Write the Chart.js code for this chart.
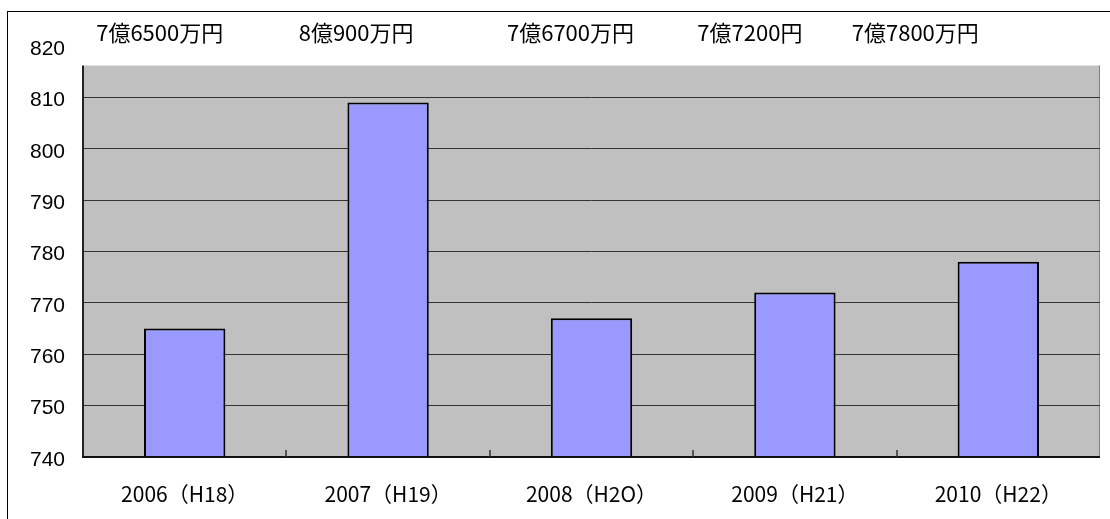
<!DOCTYPE html>
<html>
<head>
<meta charset="utf-8">
<script src="https://cdn.jsdelivr.net/npm/chart.js@4"></script>
<style>
  html, body { margin: 0; padding: 0; background: #fff; }
  #wrap { width: 1110px; height: 519px; position: relative; }
</style>
</head>
<body>
<div id="wrap"><canvas id="c" width="1110" height="519"></canvas></div>
<script>
// ---- data ----
const categories = ['2006（H18）', '2007（H19）', '2008（H2O）', '2009（H21）', '2010（H22）'];
const values = [765, 809, 767, 772, 778];
const topLabels = ['7億6500万円', '8億900万円', '7億6700万円', '7億7200円', '7億7800万円'];
const yMin = 740;
const yMax = 820;
const yStep = 10;

// ---- style constants ----
const plotBg = '#C0C0C0';
const plotTopValue = 816.2;          // visible top of the gray plot area
const topLabelShift = [-25, -32, -21, -45, -83]; // text boxes offset from bar centres (px)
const topLabelY = 33;

const decorPlugin = {
  id: 'decor',
  beforeDraw(chart) {
    const ctx = chart.ctx;
    const a = chart.chartArea;
    const y = chart.scales.y;
    const top = y.getPixelForValue(plotTopValue);
    ctx.save();
    ctx.fillStyle = '#fff';
    ctx.fillRect(0, 0, chart.width, chart.height);
    // outer frame
    ctx.strokeStyle = '#000';
    ctx.lineWidth = 1;
    ctx.strokeRect(7.5, 11.5, chart.width + 10, chart.height + 10);
    // plot background
    ctx.fillStyle = plotBg;
    ctx.fillRect(a.left, top, a.right - a.left, a.bottom - top);
    // right edge of plot
    ctx.strokeStyle = '#808080';
    ctx.lineWidth = 1;
    ctx.beginPath();
    ctx.moveTo(a.right - 0.5, top);
    ctx.lineTo(a.right - 0.5, a.bottom);
    ctx.stroke();
    ctx.restore();
  },
  afterDatasetsDraw(chart) {
    const ctx = chart.ctx;
    const a = chart.chartArea;
    const x = chart.scales.x;
    const y = chart.scales.y;
    const top = y.getPixelForValue(plotTopValue);
    ctx.save();
    // left axis line
    ctx.strokeStyle = '#222';
    ctx.lineWidth = 2;
    ctx.beginPath();
    ctx.moveTo(a.left, top);
    ctx.lineTo(a.left, a.bottom + 1);
    ctx.stroke();
    // bottom axis line
    ctx.strokeStyle = '#111';
    ctx.lineWidth = 2;
    ctx.beginPath();
    ctx.moveTo(a.left - 1, a.bottom);
    ctx.lineTo(a.right, a.bottom);
    ctx.stroke();
    // category tick marks (between categories, pointing inward)
    ctx.strokeStyle = '#333';
    ctx.lineWidth = 1.5;
    for (let i = 0; i < categories.length - 1; i++) {
      const px = Math.round((x.getPixelForTick(i) + x.getPixelForTick(i + 1)) / 2);
      ctx.beginPath();
      ctx.moveTo(px, a.bottom);
      ctx.lineTo(px, a.bottom - 7);
      ctx.stroke();
    }
    // top value text boxes
    ctx.fillStyle = '#000';
    ctx.font = '22px "Noto Sans CJK JP"';
    ctx.textAlign = 'center';
    ctx.textBaseline = 'middle';
    topLabels.forEach((t, i) => {
      const cx = x.getPixelForValue(i) + topLabelShift[i];
      ctx.fillText(t, cx, topLabelY);
    });
    ctx.restore();
  }
};

new Chart(document.getElementById('c'), {
  type: 'bar',
  data: {
    labels: categories,
    datasets: [{
      data: values,
      backgroundColor: '#9999FF',
      borderColor: '#000',
      borderWidth: 2,
      borderSkipped: false,
      barPercentage: 0.4,
      categoryPercentage: 1.0
    }]
  },
  options: {
    responsive: false,
    animation: false,
    devicePixelRatio: 1,
    layout: { padding: { top: 46, right: 10, left: 0, bottom: 0 } },
    plugins: {
      legend: { display: false },
      tooltip: { enabled: false },
      title: { display: false }
    },
    scales: {
      x: {
        grid: { display: false, drawTicks: false },
        border: { display: false },
        ticks: {
          color: '#000',
          padding: 24,
          maxRotation: 0,
          autoSkip: false,
          font: { family: '"Noto Sans CJK JP"', size: 21 }
        },
        afterFit(scale) { scale.height = 62; }
      },
      y: {
        min: yMin,
        max: yMax,
        grid: {
          drawTicks: false,
          color: (ctx) => (ctx.tick && ctx.tick.value >= plotTopValue) ? 'rgba(0,0,0,0)' : '#333',
          lineWidth: 1
        },
        border: { display: false },
        ticks: {
          stepSize: yStep,
          color: '#000',
          padding: 18,
          labelOffset: 3,
          font: { family: '"Liberation Sans", Arial, sans-serif', size: 21 }
        },
        afterFit(scale) { scale.width = 83; }
      }
    }
  },
  plugins: [decorPlugin]
});
</script>
</body>
</html>
